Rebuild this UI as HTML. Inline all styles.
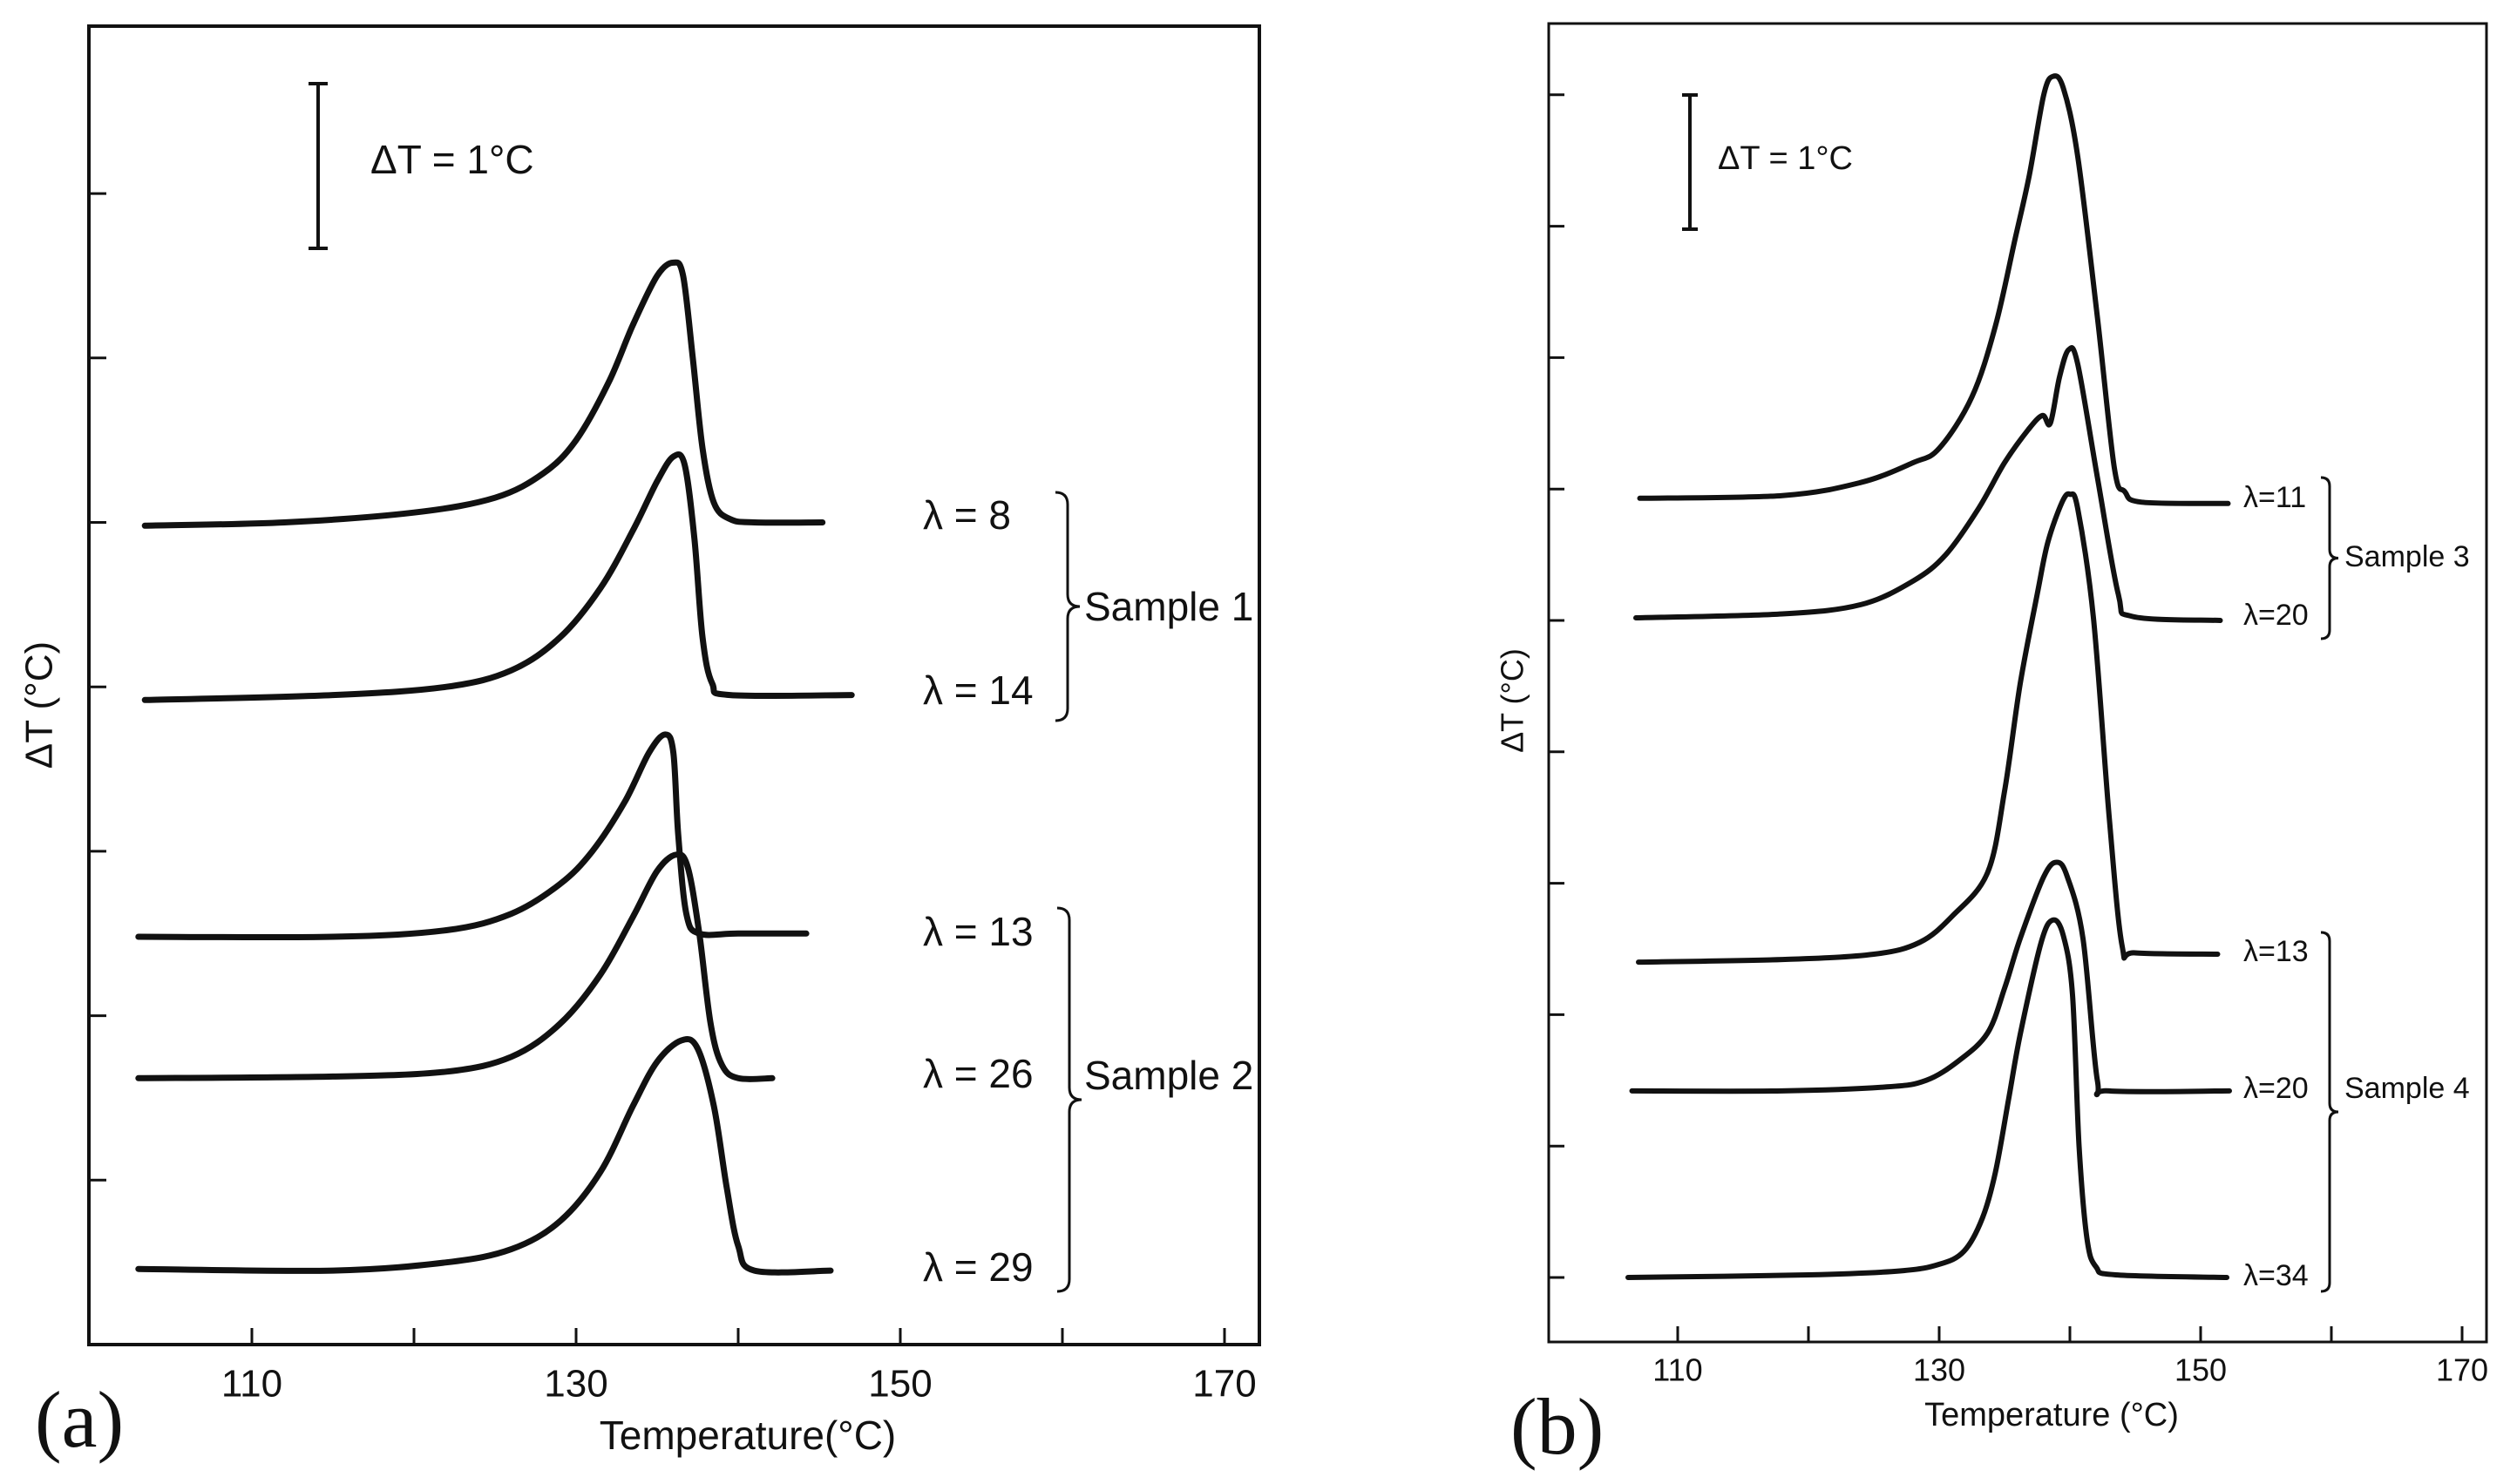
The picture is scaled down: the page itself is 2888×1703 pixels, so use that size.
<!DOCTYPE html>
<html><head><meta charset="utf-8">
<style>
html,body{margin:0;padding:0;background:#fff;}
svg{display:block;}
text{font-family:"Liberation Sans",sans-serif;fill:#111;}
</style></head>
<body>
<svg id="chart" width="2888" height="1703" viewBox="0 0 2888 1703" xmlns="http://www.w3.org/2000/svg">
<rect width="2888" height="1703" fill="#fff"/>
</svg>
<script>
// ---------- data ----------
const xTicksA = [110,120,130,140,150,160,170];
const xTickLabelsA = ["110","","130","","150","","170"];
const yTicksA = [1,2,3,4,5,6,7];
const xTicksB = [110,120,130,140,150,160,170];
const xTickLabelsB = ["110","","130","","150","","170"];
const yTicksB = [0,1,2,3,4,5,6,7,8,9];

const lam8  = [[103.4,4.98],[112,5.0],[120,5.06],[125,5.15],[128,5.3],[130,5.5],[132,5.85],[133.5,6.2],[135,6.5],[136,6.58],[136.6,6.5],[137.2,6.0],[137.8,5.45],[138.5,5.12],[139.5,5.02],[141,5.0],[145.2,5.0]];
const lam14 = [[103.4,3.92],[115,3.95],[122,4.0],[126,4.1],[129,4.3],[131.5,4.6],[133.5,4.95],[135,5.25],[136,5.4],[136.7,5.35],[137.3,4.9],[137.8,4.3],[138.4,4.02],[139.5,3.95],[147,3.95]];
const lam13a= [[103,2.48],[115,2.48],[122,2.52],[126,2.62],[129,2.8],[131,3.0],[133,3.3],[134.5,3.6],[135.5,3.71],[136,3.6],[136.3,3.1],[136.8,2.62],[137.6,2.5],[140,2.5],[144.2,2.5]];
const lam26 = [[103,1.62],[115,1.63],[122,1.66],[126,1.75],[129,1.95],[131.5,2.25],[133.5,2.6],[135,2.88],[136.2,2.98],[136.9,2.9],[137.6,2.5],[138.3,1.95],[139,1.7],[140,1.62],[142.1,1.62]];
const lam29 = [[103,0.46],[115,0.45],[122,0.5],[126,0.58],[129,0.75],[131.5,1.05],[133.5,1.45],[135,1.72],[136.5,1.85],[137.5,1.8],[138.5,1.45],[139.3,0.95],[140,0.6],[141,0.45],[145.7,0.45]];

const lam11  = [[107.1,5.93],[118,5.95],[124,6.05],[128,6.2],[130,6.31],[132.5,6.7],[134.3,7.24],[135.8,7.9],[136.9,8.39],[138,9.0],[138.7,9.14],[139.5,9.05],[140.6,8.53],[142.1,7.31],[143.4,6.16],[144.2,5.98],[145.5,5.9],[152.1,5.89]];
const lam20s3= [[106.8,5.02],[118,5.05],[124,5.12],[128,5.3],[130.5,5.5],[133,5.85],[135,6.2],[136.8,6.45],[137.9,6.56],[138.5,6.5],[139.2,6.85],[139.9,7.06],[140.6,6.95],[142.1,6.09],[143.7,5.2],[144.8,5.03],[151.5,5.0]];
const lam13b = [[107,2.40],[118,2.42],[125,2.46],[128.5,2.55],[131,2.75],[133.7,3.08],[135,3.7],[136.2,4.52],[137.5,5.2],[138.3,5.59],[139.4,5.9],[140,5.96],[140.6,5.85],[141.8,5.02],[143,3.51],[144,2.52],[145,2.47],[151.3,2.46]];
const lam20s4= [[106.5,1.42],[118,1.42],[126,1.45],[129,1.5],[131.5,1.65],[133.7,1.86],[135,2.2],[136.2,2.58],[138,3.05],[139,3.16],[139.8,3.05],[141,2.58],[142.1,1.5],[143,1.42],[152.2,1.42]];
const lam34  = [[106.2,0],[120,0.02],[127,0.05],[130,0.1],[131.9,0.2],[133.3,0.45],[134.3,0.8],[135.3,1.35],[136.2,1.85],[137.8,2.55],[138.7,2.72],[139.5,2.6],[140.2,2.15],[140.7,1.0],[141.3,0.3],[142,0.08],[143.5,0.02],[152,0]];

// ---------- axes ----------
const xA = t => 289 + (t-110)*18.6;
const yA = v => 1543 - v*188.7;
const xB = t => 1925 + (t-110)*15;
const yB = v => 1466 - v*150.8;

const svg = document.getElementById('chart');
const NS = 'http://www.w3.org/2000/svg';
function mk(tag, attrs, parent){
  const e = document.createElementNS(NS, tag);
  for (const k in attrs) e.setAttribute(k, attrs[k]);
  (parent||svg).appendChild(e);
  return e;
}
function txt(s, x, y, size, parent, extra){
  const e = mk('text', Object.assign({x:x, y:y, 'font-size':size, 'dominant-baseline':'middle'}, extra||{}), parent);
  e.textContent = s;
  return e;
}
function pathFrom(pts, fx, fy){
  const p = pts.map(q => [fx(q[0]), fy(q[1])]);
  let d = 'M' + p[0][0].toFixed(1) + ',' + p[0][1].toFixed(1);
  for (let i=0;i<p.length-1;i++){
    const p0 = p[Math.max(0,i-1)], p1 = p[i], p2 = p[i+1], p3 = p[Math.min(p.length-1,i+2)];
    const t = 6;
    const c1 = [p1[0]+(p2[0]-p0[0])/t, p1[1]+(p2[1]-p0[1])/t];
    const c2 = [p2[0]-(p3[0]-p1[0])/t, p2[1]-(p3[1]-p1[1])/t];
    d += ' C'+c1[0].toFixed(1)+','+c1[1].toFixed(1)+' '+c2[0].toFixed(1)+','+c2[1].toFixed(1)+' '+p2[0].toFixed(1)+','+p2[1].toFixed(1);
  }
  return d;
}
function bracket(g, x, y1, y2, w){
  const ym = (y1+y2)/2;
  const d = 'M'+(x-w)+','+y1+' Q'+x+','+y1+' '+x+','+(y1+w)+' L'+x+','+(ym-w)+' Q'+x+','+ym+' '+(x+w)+','+ym+' Q'+x+','+ym+' '+x+','+(ym+w)+' L'+x+','+(y2-w)+' Q'+x+','+y2+' '+(x-w)+','+y2;
  return mk('path',{d:d, fill:'none', stroke:'#111', 'stroke-width':3}, g);
}

// ---------- panel A ----------
const gA = mk('g', {});


const frameA = mk('rect', {x:102, y:30, width:1343, height:1513, fill:'none', stroke:'#111', 'stroke-width':4}, gA);


xTicksA.forEach((t,i)=>{
  const tk = mk('line',{x1:xA(t), x2:xA(t), y1:1543, y2:1524, stroke:'#111','stroke-width':3}, gA);
  
  
  if (xTickLabelsA[i]){
    const l = txt(xTickLabelsA[i], xA(t), 1591, 44, gA, {'text-anchor':'middle'});
    
    
  }
});
yTicksA.forEach(v=>{
  const tk = mk('line',{x1:102, x2:122, y1:yA(v), y2:yA(v), stroke:'#111','stroke-width':3}, gA);
  
  
});
const xtA = txt('Temperature(°C)', 858, 1651, 46, gA, {'text-anchor':'middle'});


const ytA = txt('ΔT (°C)', 0, 0, 44, gA, {'text-anchor':'middle', transform:'translate(48,809) rotate(-90)'});


const labA = mk('text',{x:40, y:1660, 'font-size':92, style:'font-family:"Liberation Serif",serif'}, gA);
labA.textContent = '(a)';


const sbA = mk('path',{d:'M365,96 L365,285 M354,96 L376,96 M354,285 L376,285', stroke:'#111','stroke-width':4, fill:'none'}, gA);


const sbtA = txt('ΔT = 1°C', 425, 187, 46, gA);



const seriesA = [[lam8,'λ = 8',595],[lam14,'λ = 14',796],[lam13a,'λ = 13',1073],[lam26,'λ = 26',1236],[lam29,'λ = 29',1458]];
seriesA.forEach(s=>{
  const p = mk('path',{d:pathFrom(s[0], xA, yA), fill:'none', stroke:'#111','stroke-width':7,'stroke-linejoin':'round','stroke-linecap':'round'}, gA);
  
  
  const l = txt(s[1], 1059, s[2], 46, gA);
  
  
});
const br1 = bracket(gA, 1225, 565, 827, 14);


const s1 = txt('Sample 1', 1244, 700, 46, gA);


const br2 = bracket(gA, 1227, 1042, 1482, 14);


const s2 = txt('Sample 2', 1244, 1238, 46, gA);



// ---------- panel B ----------
const gB = mk('g', {});


const frameB = mk('rect', {x:1777, y:27, width:1076, height:1513, fill:'none', stroke:'#111', 'stroke-width':3}, gB);


xTicksB.forEach((t,i)=>{
  const tk = mk('line',{x1:xB(t), x2:xB(t), y1:1540, y2:1522, stroke:'#111','stroke-width':3}, gB);
  
  
  if (xTickLabelsB[i]){
    const l = txt(xTickLabelsB[i], xB(t), 1575, 36, gB, {'text-anchor':'middle'});
    
    
  }
});
yTicksB.forEach(v=>{
  const tk = mk('line',{x1:1777, x2:1795, y1:yB(v), y2:yB(v), stroke:'#111','stroke-width':3}, gB);
  
  
});
const xtB = txt('Temperature (°C)', 2354, 1626, 38, gB, {'text-anchor':'middle'});


const ytB = txt('ΔT (°C)', 0, 0, 36, gB, {'text-anchor':'middle', transform:'translate(1738,804) rotate(-90)'});


const labB = mk('text',{x:1733, y:1668, 'font-size':92, style:'font-family:"Liberation Serif",serif'}, gB);
labB.textContent = '(b)';


const sbB = mk('path',{d:'M1939,109 L1939,263 M1930,109 L1948,109 M1930,263 L1948,263', stroke:'#111','stroke-width':4, fill:'none'}, gB);


const sbtB = txt('ΔT = 1°C', 1971, 184, 38, gB);



const seriesB = [[lam11,'λ=11',573],[lam20s3,'λ=20',708],[lam13b,'λ=13',1094],[lam20s4,'λ=20',1251],[lam34,'λ=34',1466]];
seriesB.forEach((s,i)=>{
  const p = mk('path',{d:pathFrom(s[0], xB, yB), fill:'none', stroke:'#111','stroke-width':6,'stroke-linejoin':'round','stroke-linecap':'round'}, gB);
  
  
  const l = txt(s[1], 2574, s[2], 34, gB);
  
  
});
const br3 = bracket(gB, 2673, 548, 733, 10);


const s3 = txt('Sample 3', 2690, 641, 34, gB);


const br4 = bracket(gB, 2673, 1070, 1482, 10);


const s4 = txt('Sample 4', 2690, 1251, 34, gB);


</script>
</body></html>
